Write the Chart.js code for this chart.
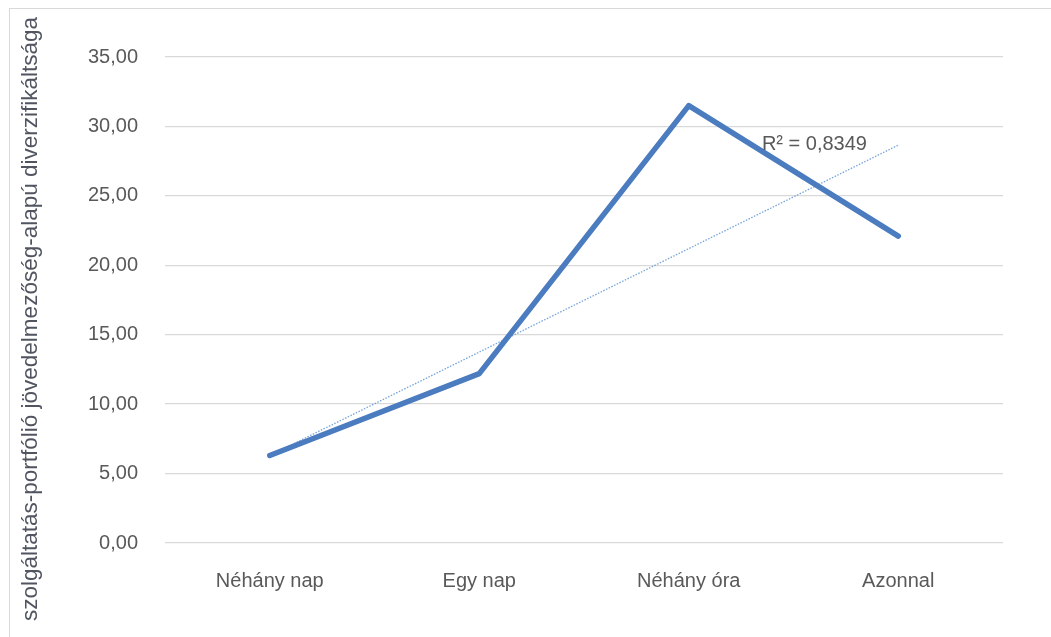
<!DOCTYPE html>
<html lang="hu">
<head>
<meta charset="utf-8">
<title>Diverzifikáltság</title>
<script src="https://cdn.jsdelivr.net/npm/chart.js@4/dist/chart.umd.min.js"></script>
<style>
  html, body { margin: 0; padding: 0; background: #fff; overflow: hidden; }
  #wrap { position: relative; width: 1051px; height: 637px; }
  #frame {
    position: absolute; left: 9px; top: 8px; width: 1100px; height: 700px;
    border-left: 1px solid #d9d9d9; border-top: 1px solid #d9d9d9;
  }
  canvas { position: absolute; left: 0; top: 0; }
</style>
</head>
<body>
<div id="wrap">
  <div id="frame"></div>
  <canvas id="myChart" width="1051" height="637"></canvas>
</div>
<script>
const categories = ['Néhány nap', 'Egy nap', 'Néhány óra', 'Azonnal'];
const diverzifikaltsag = [6.3, 12.2, 31.5, 22.1];
// linear trend line values at each category
const trendValues = [6.3, 13.75, 21.2, 28.65];
const rSquared = 0.8349;
const yMin = 0, yMax = 35, yStep = 5;
const axisTitle = 'szolgáltatás-portfólió jövedelmezőség-alapú diverzifikáltsága';

const fontFamily = '"Liberation Sans", Arial, sans-serif';
const textColor = '#595959';

function huNumber(v, digits) {
  return v.toFixed(digits).replace('.', ',');
}

// rotated y title and the R² label
const extraText = {
  id: 'extraText',
  afterDraw(chart) {
    const ctx = chart.ctx;
    const x = chart.scales.x, y = chart.scales.y;
    ctx.save();
    ctx.fillStyle = textColor;
    ctx.font = '20px ' + fontFamily;
    ctx.textAlign = 'center';
    ctx.textBaseline = 'middle';
    ctx.fillText('R² = ' + huNumber(rSquared, 4), x.getPixelForValue(2.6), y.getPixelForValue(28.7));

    ctx.font = '22.5px ' + fontFamily;
    ctx.fillStyle = '#505560';
    ctx.translate(31, 319);
    ctx.rotate(-Math.PI / 2);
    ctx.fillText(axisTitle, 0, 0);
    ctx.restore();
  }
};

const ctx = document.getElementById('myChart').getContext('2d');
const myChart = new Chart(ctx, {
  type: 'line',
  data: {
    labels: categories,
    datasets: [
      {
        label: 'Diverzifikáltság',
        data: diverzifikaltsag,
        borderColor: '#4a7cbf',
        borderWidth: 5.5,
        borderJoinStyle: 'round',
        borderCapStyle: 'round',
        pointRadius: 0,
        tension: 0,
        order: 1
      },
      {
        label: 'Lineáris trend',
        data: trendValues,
        borderColor: '#74a3d8',
        borderWidth: 1.3,
        borderDash: [1.5, 1.5],
        pointRadius: 0,
        tension: 0,
        order: 2
      }
    ]
  },
  options: {
    responsive: false,
    animation: false,
    layout: { padding: { top: 57, right: 48, left: 0, bottom: 0 } },
    plugins: {
      legend: { display: false },
      tooltip: { enabled: false }
    },
    scales: {
      x: {
        offset: true,
        grid: { display: false },
        border: { display: false },
        ticks: {
          color: textColor,
          font: { family: fontFamily, size: 20 },
          padding: 18,
          maxRotation: 0
        },
        afterFit: s => { s.height = 94; }
      },
      y: {
        min: yMin,
        max: yMax,
        grid: { color: '#d9d9d9', lineWidth: 1.3, drawTicks: false },
        border: { display: false },
        ticks: {
          stepSize: yStep,
          color: textColor,
          font: { family: fontFamily, size: 20 },
          padding: 27,
          callback: v => huNumber(v, 2)
        },
        afterFit: s => { s.width = 165; }
      }
    }
  },
  plugins: [extraText]
});
</script>
</body>
</html>
